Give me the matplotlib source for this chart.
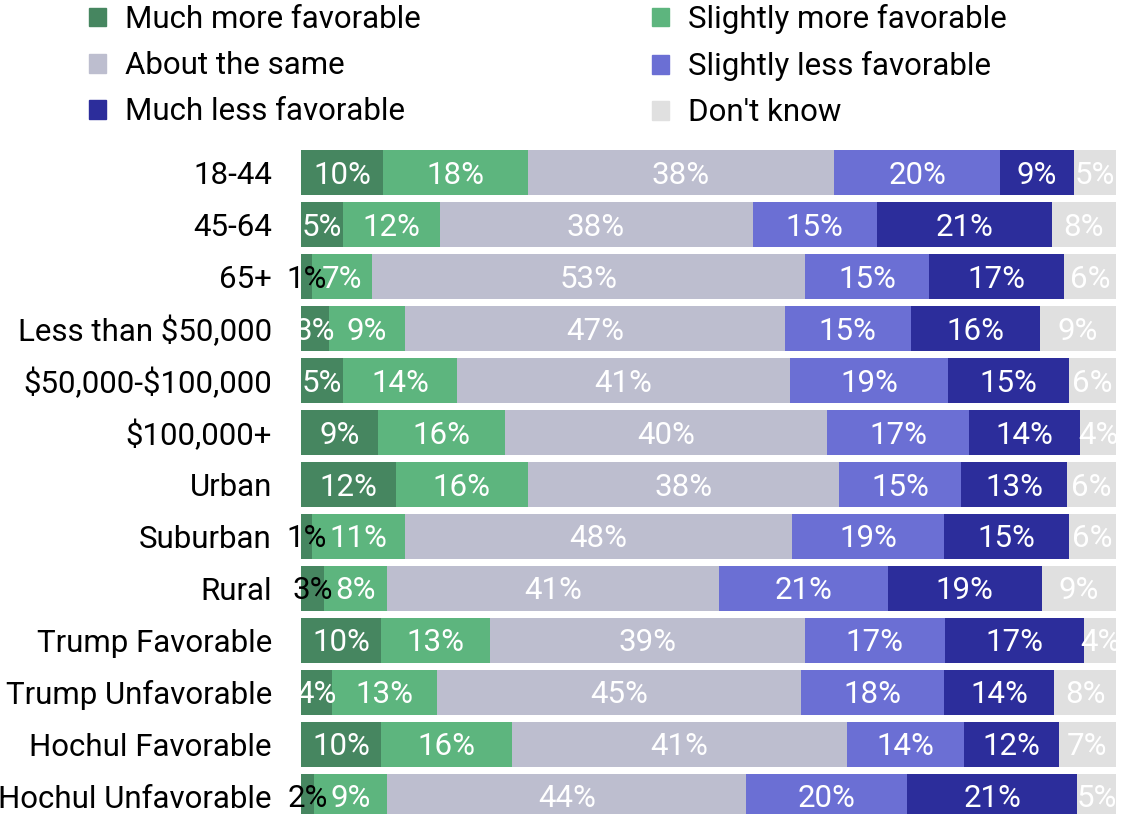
import matplotlib.pyplot as plt
import numpy as np
from matplotlib.patches import Patch

plt.rcParams['font.family'] = ['Roboto', 'DejaVu Sans']
plt.rcParams['text.parse_math'] = False

groups = ['18-44', '45-64', '65+', 'Less than $50,000', '$50,000-$100,000',
          '$100,000+', 'Urban', 'Suburban', 'Rural', 'Trump Favorable',
          'Trump Unfavorable', 'Hochul Favorable', 'Hochul Unfavorable']

answers = ['Much more favorable', 'Slightly more favorable', 'About the same',
           'Slightly less favorable', 'Much less favorable', "Don't know"]

much_more = [10.1, 5.2, 1.3, 3.4, 5.2, 9.4, 11.6, 1.3, 2.8, 9.8, 3.8, 9.8, 1.6]
slightly_more = [17.7, 11.8, 7.4, 9.3, 13.9, 15.6, 16.2, 11.4, 7.7, 13.4, 12.9, 16.1, 9.0]
about_same = [37.6, 38.4, 53.2, 46.7, 40.9, 39.6, 38.2, 47.6, 40.8, 38.6, 44.6, 41.1, 44.0]
slightly_less = [20.4, 15.3, 15.1, 15.4, 19.4, 17.4, 15.0, 18.6, 20.7, 17.2, 17.6, 14.4, 19.8]
much_less = [9.0, 21.4, 16.6, 15.9, 14.8, 13.6, 13.0, 15.3, 18.9, 17.1, 13.5, 11.6, 20.8]
dont_know = [5.2, 7.9, 6.4, 9.3, 5.8, 4.4, 6.0, 5.8, 9.1, 3.9, 7.6, 7.0, 4.8]

colors = ['#468660', '#5db57e', '#bdbecf', '#6b6fd4', '#2c2d9b', '#e0e0e0']

series = [much_more, slightly_more, about_same, slightly_less, much_less, dont_know]

fig = plt.figure(figsize=(11.27, 8.14), dpi=100)
ax = fig.add_axes([301 / 1127, 0, 815 / 1127, (814 - 146.5) / 814])

y = np.arange(len(groups))
left = np.zeros(len(groups))
handles = []
for name, vals, c in zip(answers, series, colors):
    vals = np.array(vals)
    ax.barh(y, vals, left=left, height=0.87, color=c, label=name)
    for yi, l, v in zip(y, left, vals):
        if v < 3:
            ax.text(l + v / 2, yi + 0.05, f'{v:.0f}%', ha='center', va='center',
                    color='black', fontsize=22.5, clip_on=False)
        else:
            ax.text(l + v / 2, yi + 0.05, f'{v:.0f}%', ha='center', va='center',
                    color='white', fontsize=22.5, clip_on=True)
    left += vals
    handles.append(Patch(color=c, label=name))

ax.set_xlim(0, 100)
ax.set_ylim(12.34, -0.5)
ax.set_yticks(y)
ax.set_yticklabels(groups, fontsize=22.5)
ax.tick_params(axis='y', length=0, pad=21)
ax.set_xticks([])
for s in ax.spines.values():
    s.set_visible(False)

order = [0, 2, 4, 1, 3, 5]
fig.legend([handles[i] for i in order], [answers[i] for i in order],
           ncol=2, loc='upper left', bbox_to_anchor=(89 / 1127, 1 - 4 / 814),
           frameon=False, fontsize=22.5, handlelength=0.55, handleheight=0.55,
           handletextpad=0.6, columnspacing=7.4, labelspacing=0.55,
           borderaxespad=0, borderpad=0.0)

fig.savefig('out.png', dpi=100)
